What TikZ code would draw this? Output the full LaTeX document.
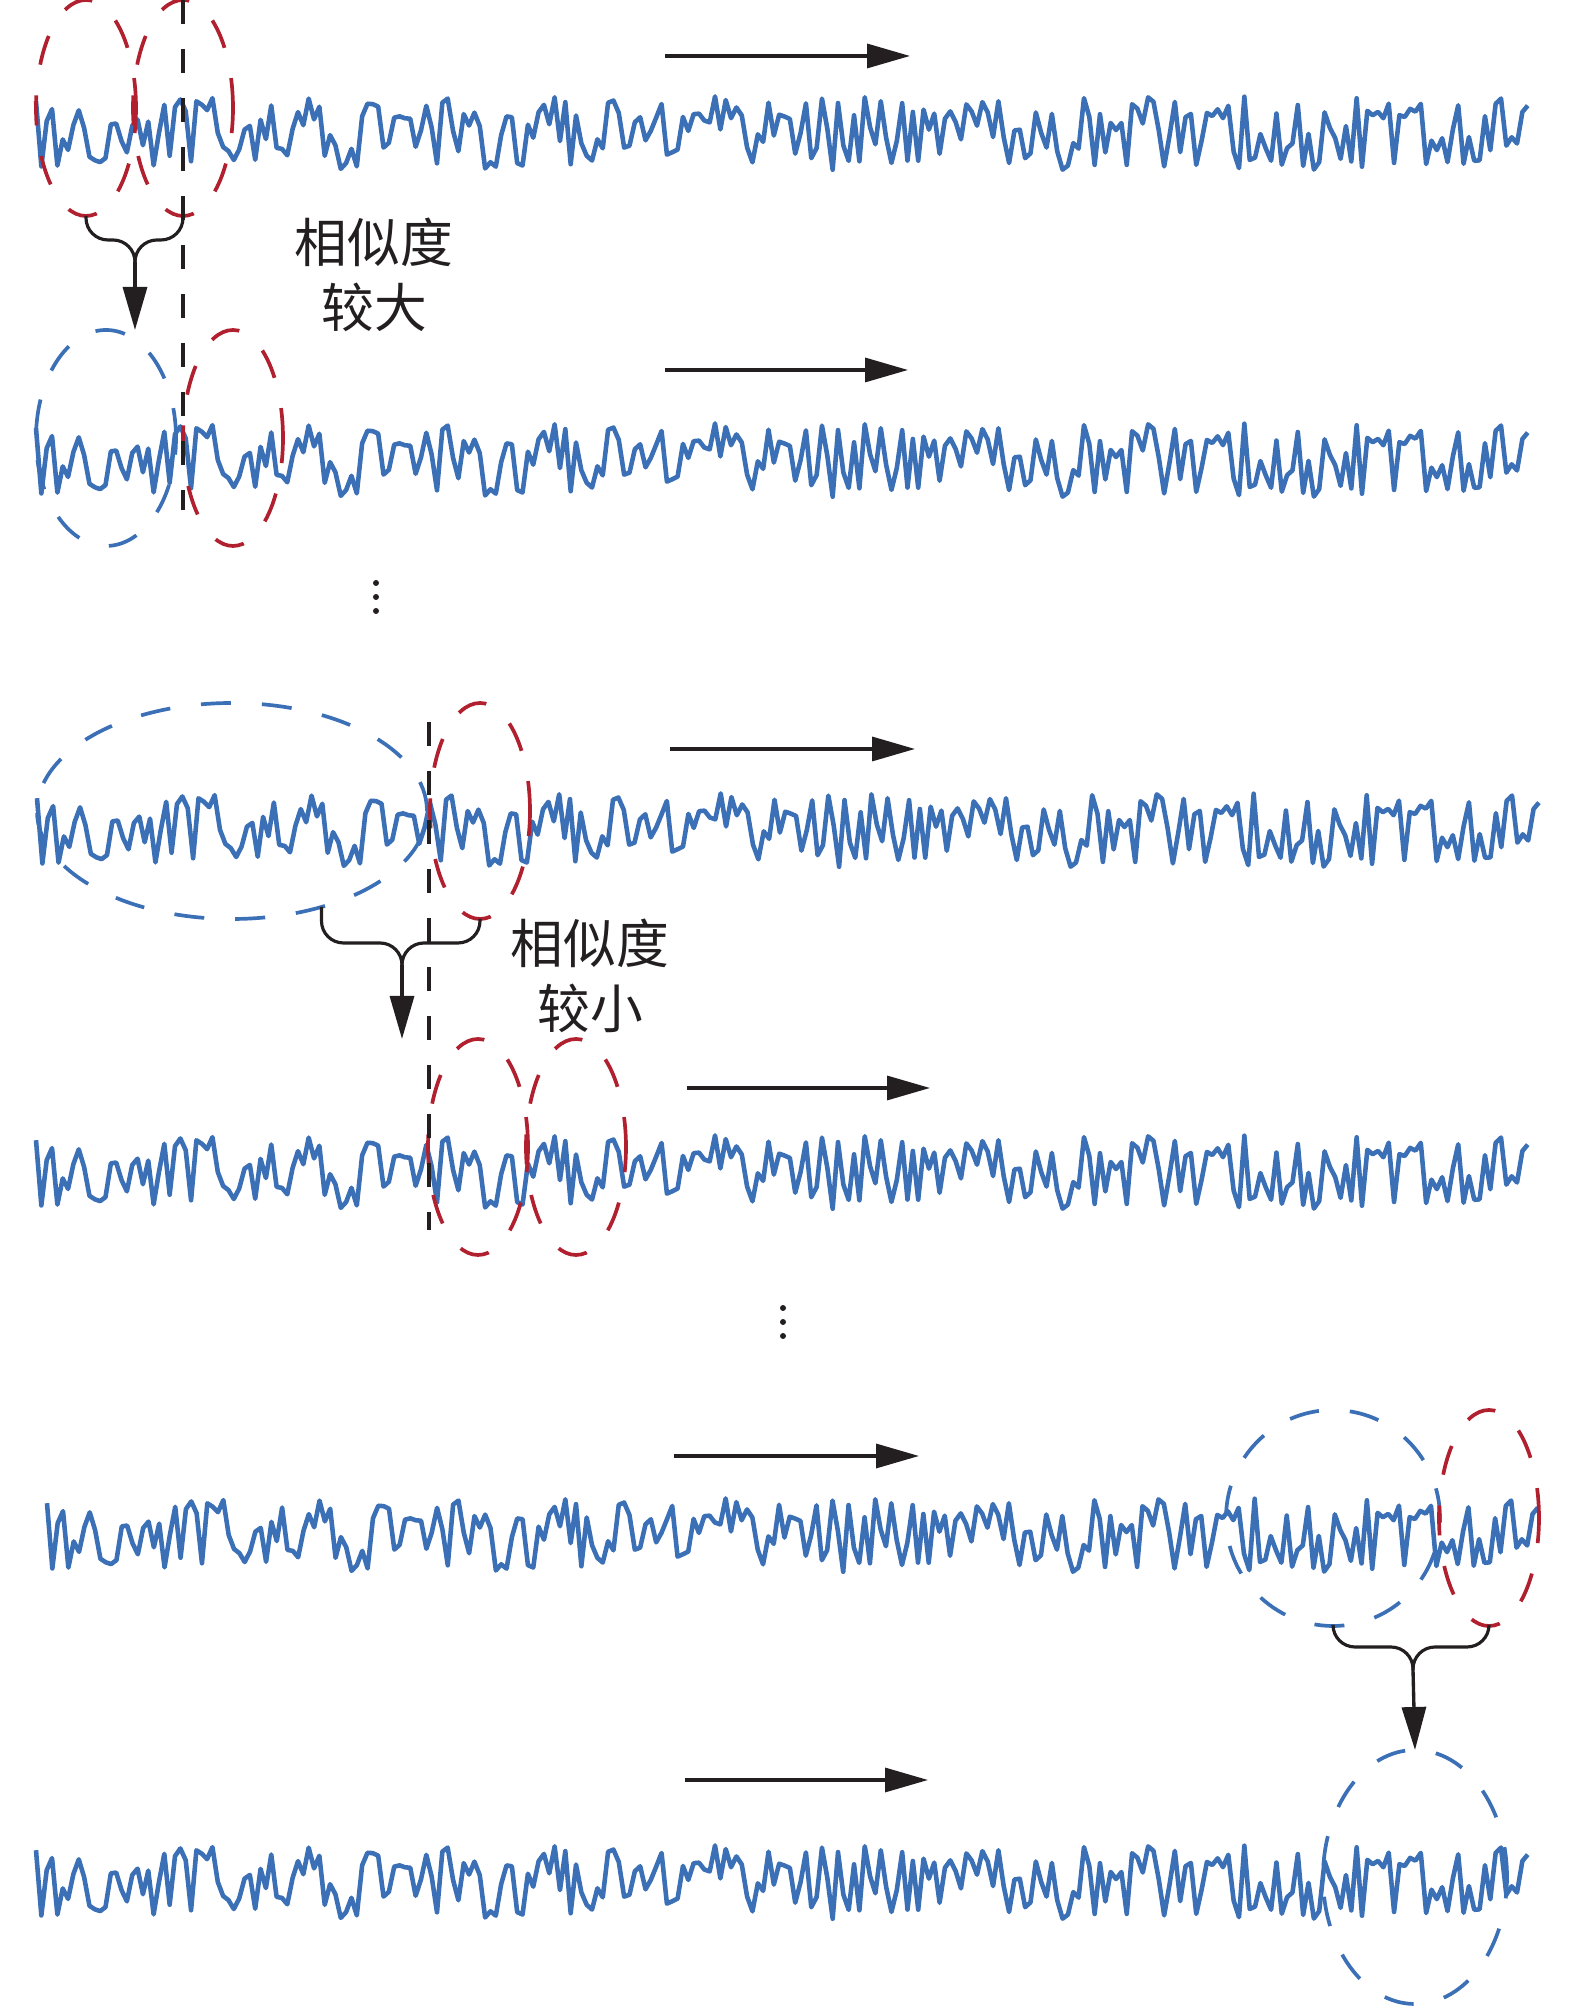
\documentclass[tikz,border=0pt]{standalone}
\usepackage{fontspec}
\newfontfamily\cjk{Noto Sans CJK SC}
\usetikzlibrary{arrows.meta,shapes.geometric}
\definecolor{sigblue}{RGB}{59,111,182}
\definecolor{winred}{RGB}{176,32,47}
\definecolor{ink}{RGB}{35,31,32}
\tikzset{
  sig/.style={sigblue, line width=1.3pt, line join=round},
  win/.style={ellipse, draw, line width=1.05pt, dash pattern=on 3mm off 3.1mm,
    inner sep=0pt, outer sep=0pt, minimum height=2.16cm},
  redwin/.style={win, draw=winred, minimum width=1cm},
  bluewin/.style={win, draw=sigblue},
  cutline/.style={ink, line width=1pt, dash pattern=on 2.4mm off 2.5mm},
  bracelink/.style={ink, line width=0.9pt, rounded corners=2.2mm},
  steparrow/.style={ink, line width=0.95pt, -{Triangle[length=4.3mm,width=2.4mm]}},
  note/.style={font=\cjk\fontsize{15}{18.5}\selectfont, text=ink, align=center, inner sep=0pt},
}

\begin{document}
\begin{tikzpicture}
\useasboundingbox (0,0) rectangle (15.75,20.06);
% Signals
\foreach \y/\xa/\xb in {18.73/0.36/15.28, 15.46/0.36/15.28, 11.76/0.37/15.39,
                        8.34/0.36/15.28, 4.71/0.47/15.38, 1.24/0.36/15.28} {
  \pgfmathsetseed{2024}
  \draw[sig] plot[domain=\xa:\xb, samples=280] (\x, {\y+0.37*rand});
}
% Row 1
\node[redwin] (w1a) at (0.86,18.98) {};
\node[redwin] (w1b) at (1.83,18.98) {};
% Row 2
\node[bluewin, minimum width=1.40cm] (e2) at (1.06,15.68) {};
\node[redwin] (w2) at (2.33,15.68) {};
% Row 3
\node[bluewin, minimum width=3.90cm] (e3) at (2.32,11.95) {};
\node[redwin] (w3) at (4.80,11.95) {};
% Row 4
\node[redwin] (w4a) at (4.78,8.59) {};
\node[redwin] (w4b) at (5.76,8.59) {};
% Row 5
\node[bluewin, minimum width=2.14cm] (e5) at (13.33,4.88) {};
\node[redwin] (w5) at (14.89,4.88) {};
% Row 6
\node[bluewin, minimum width=1.84cm, minimum height=2.54cm] (e6) at (14.15,1.29) {};
% Cut lines
\coordinate (c1a) at (1.83,20.06);
\coordinate (c1b) at (1.83,14.96);
\draw[cutline] (c1a) -- (c1b);
\coordinate (c2a) at (4.29,12.84);
\coordinate (c2b) at (4.29,7.76);
\draw[cutline] (c2a) -- (c2b);
% Merging windows
\coordinate (k1) at (1.35,17.66);
\coordinate (b1) at (1.35,17.44);
\draw[bracelink] (w1a.south) |- (k1) -- (b1);
\draw[bracelink] (w1b.south) |- (k1) -- (b1);
\draw[steparrow] (b1) -- (b1 |- e2.north);
\coordinate (k2) at (4.02,10.63);
\coordinate (b2) at (4.02,10.41);
\draw[bracelink] (e3.-47) |- (k2) -- (b2);
\draw[bracelink] (w3.south) |- (k2) -- (b2);
\draw[steparrow] (b2) -- (b2 |- w4a.north);
\coordinate (k3) at (14.13,3.59);
\coordinate (b3) at (14.13,3.36);
\draw[bracelink] (e5.south) |- (k3) -- (b3);
\draw[bracelink] (w5.south) |- (k3) -- (b3);
\draw[steparrow] (b3) -- (e6.north);
% Labels
\node[note] (t1) at (3.74,17.31) {相似度\\较大};
\node[note] (t2) at (5.90,10.30) {相似度\\较小};
% Dots
\foreach \d in {14.23,14.09,13.95} \fill[ink] (3.76,\d) circle (0.03);
\foreach \d in {6.98,6.84,6.70} \fill[ink] (7.83,\d) circle (0.03);
% Sliding direction
\foreach \i/\xa/\xb/\y in {1/6.65/9.10/19.50, 2/6.65/9.08/16.36, 3/6.70/9.15/12.57,
                           4/6.87/9.30/9.18, 5/6.74/9.19/5.50, 6/6.85/9.28/2.26} {
  \coordinate (ma\i) at (\xa,\y);
  \coordinate (mb\i) at (\xb,\y);
  \draw[steparrow] (ma\i) -- (mb\i);
}
\end{tikzpicture}
\end{document}
